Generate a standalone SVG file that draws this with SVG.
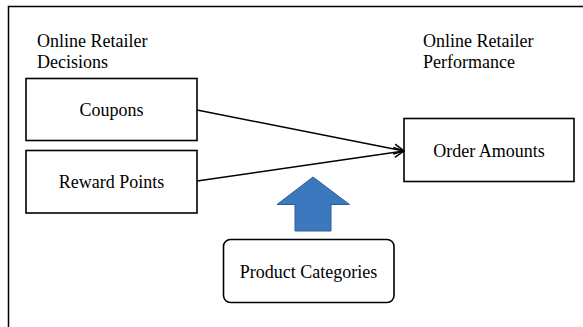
<svg xmlns="http://www.w3.org/2000/svg" width="583" height="327" viewBox="0 0 583 327">
<style>
.box{fill:#fff;stroke:#000;stroke-width:1.6}
.t{font-family:"Liberation Serif","Times New Roman",serif;font-size:18px;fill:#000}
.c{text-anchor:middle}
.ln{stroke:#000;stroke-width:1.5;fill:none}
</style>
<defs>
<marker id="ah" viewBox="0 0 12 12" refX="11" refY="6" markerWidth="12" markerHeight="12" markerUnits="userSpaceOnUse" orient="auto">
<path d="M1,1 L11,6 L1,11" fill="none" stroke="#000" stroke-width="1.5"/>
</marker>
</defs>
<rect x="0" y="0" width="583" height="327" fill="#fff"/>
<path d="M8.5,340 V6.5 H590" fill="none" stroke="#000" stroke-width="1.5"/>
<g id="label-decisions"><text class="t" x="37" y="47">Online Retailer</text><text class="t" x="37" y="68">Decisions</text></g>
<g id="label-performance"><text class="t" x="423" y="47">Online Retailer</text><text class="t" x="423" y="68">Performance</text></g>
<g id="coupons"><rect class="box" x="26" y="78.5" width="171" height="62"/><text class="t c" x="111.5" y="116">Coupons</text></g>
<g id="reward"><rect class="box" x="26" y="150.5" width="171" height="62.5"/><text class="t c" x="111.5" y="188">Reward Points</text></g>
<g id="order"><rect class="box" x="404" y="118.5" width="170" height="63"/><text class="t c" x="489" y="157">Order Amounts</text></g>
<g id="product"><rect class="box" x="223.5" y="239.5" width="170.5" height="63" rx="7"/><text class="t c" x="308.5" y="278">Product Categories</text></g>
<g id="connectors">
<line class="ln" x1="197" y1="110" x2="404" y2="151" marker-end="url(#ah)"/>
<line class="ln" x1="197" y1="181" x2="404" y2="151" marker-end="url(#ah)"/>
<path d="M313,177 L349.5,204.5 L331,204.5 L331,231 L295,231 L295,204.5 L277,204.5 Z" fill="#3C78BD" stroke="#2F5E96" stroke-width="1"/>
</g>
</svg>
